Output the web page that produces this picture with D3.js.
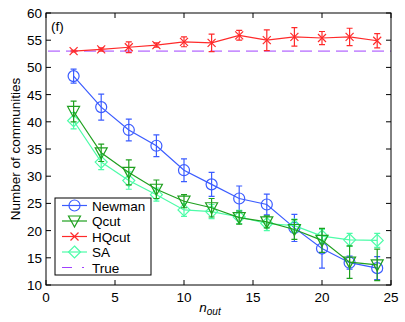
<!DOCTYPE html>
<html><head><meta charset="utf-8">
<script src="https://cdn.jsdelivr.net/npm/d3@7"></script>
<style>body{margin:0;background:#fff}svg{display:block}text{font-family:"Liberation Sans",Arial,sans-serif}</style>
</head><body><svg id="c" width="405" height="322"></svg>
<script>
const xs = [2,4,6,8,10,12,14,16,18,20,22,24];
const newmanY = [48.4,42.7,38.5,35.6,31.1,28.5,25.9,24.8,20.5,16.7,14.1,13.1];
const newmanE = [1.3,2.4,2.0,2.0,2.1,2.2,2.3,1.9,2.5,3.6,1.2,2.1];
const qcutY = [41.9,34.3,30.7,27.6,25.4,24.2,22.4,21.6,20.2,18.2,14.2,13.7];
const qcutE = [1.9,1.6,2.3,1.7,1.2,1.7,1.2,1.1,1.8,2.2,3.0,2.9];
const hqY = [53.0,53.3,53.7,54.1,54.7,54.5,55.9,55.0,55.6,55.4,55.6,54.9];
const hqE = [0.15,0.3,1.0,0.4,0.9,1.6,0.9,1.9,1.7,1.2,1.6,1.3];
const saY = [40.2,32.6,29.2,26.6,23.8,23.5,22.5,21.3,20.9,19.0,18.3,18.2];
const saE = [1.5,1.4,1.6,1.2,1.2,1.3,1.2,1.3,1.2,1.2,1.2,1.3];
const trueVal = 53;
const xTicks = [0,5,10,15,20,25];
const yTicks = [10,15,20,25,30,35,40,45,50,55,60];

const svg = d3.select('#c');
const L=46,R=391,T=13,B=285;
const x = d3.scaleLinear().domain([0,25]).range([L,R]);
const y = d3.scaleLinear().domain([10,60]).range([B,T]);

const series = [
 {name:'Newman', ys:newmanY, es:newmanE, color:'#3b5cff', marker:'circle'},
 {name:'Qcut', ys:qcutY, es:qcutE, color:'#1fa01f', marker:'tri'},
 {name:'HQcut', ys:hqY, es:hqE, color:'#ff2a2a', marker:'x'},
 {name:'SA', ys:saY, es:saE, color:'#4dfca8', marker:'diamond'}
];

// True dashed line
svg.append('line').attr('x1',x(0)+2).attr('x2',R).attr('y1',y(trueVal)).attr('y2',y(trueVal))
 .attr('stroke','#a040ff').attr('stroke-width',1).attr('stroke-dasharray','12,6');

function drawMarker(g, type, cx, cy, color){
  if(type==='circle') g.append('circle').attr('cx',cx).attr('cy',cy).attr('r',5.5).attr('fill','none').attr('stroke',color).attr('stroke-width',1.2);
  else if(type==='tri') g.append('path').attr('d',`M${cx-6},${cy-5}L${cx+6},${cy-5}L${cx},${cy+6}Z`).attr('fill','none').attr('stroke',color).attr('stroke-width',1.2);
  else if(type==='x') g.append('path').attr('d',`M${cx-4},${cy-4}L${cx+4},${cy+4}M${cx-4},${cy+4}L${cx+4},${cy-4}`).attr('stroke',color).attr('stroke-width',1.2);
  else if(type==='diamond') g.append('path').attr('d',`M${cx},${cy-6}L${cx+6},${cy}L${cx},${cy+6}L${cx-6},${cy}Z`).attr('fill','none').attr('stroke',color).attr('stroke-width',1.2);
}

const order = [series[0], series[3], series[1], series[2]];
order.forEach(s=>{
  const g = svg.append('g');
  const line = d3.line().x((d,i)=>x(xs[i])).y(d=>y(d));
  g.append('path').attr('d',line(s.ys)).attr('fill','none').attr('stroke',s.color).attr('stroke-width',1.2);
  s.ys.forEach((v,i)=>{
    const cx=x(xs[i]);
    const y1=y(v+s.es[i]), y2=y(v-s.es[i]);
    g.append('path').attr('d',`M${cx},${y1}L${cx},${y2}M${cx-3},${y1}L${cx+3},${y1}M${cx-3},${y2}L${cx+3},${y2}`)
      .attr('stroke',s.color).attr('stroke-width',1.2).attr('fill','none');
    drawMarker(g,s.marker,cx,y(v),s.color);
  });
});

// axes frame
svg.append('rect').attr('x',L).attr('y',T).attr('width',R-L).attr('height',B-T).attr('fill','none').attr('stroke','#000').attr('stroke-width',1);
const tl=5;
const ax = svg.append('g');
xTicks.forEach(t=>{
  ax.append('line').attr('x1',x(t)).attr('x2',x(t)).attr('y1',B).attr('y2',B-tl).attr('stroke','#000');
  ax.append('line').attr('x1',x(t)).attr('x2',x(t)).attr('y1',T).attr('y2',T+tl).attr('stroke','#000');
  ax.append('text').attr('x',x(t)).attr('y',B+17).attr('text-anchor','middle').attr('font-size',13.5).text(t);
});
yTicks.forEach(t=>{
  ax.append('line').attr('x1',L).attr('x2',L+tl).attr('y1',y(t)).attr('y2',y(t)).attr('stroke','#000');
  ax.append('line').attr('x1',R).attr('x2',R-tl).attr('y1',y(t)).attr('y2',y(t)).attr('stroke','#000');
  ax.append('text').attr('x',L-4).attr('y',y(t)+5).attr('text-anchor','end').attr('font-size',13.5).text(t);
});
svg.append('text').attr('transform',`translate(20,${(T+B)/2}) rotate(-90)`).attr('text-anchor','middle').attr('font-size',13.5).text('Number of communities');
const xl = svg.append('text').attr('x',210).attr('y',312).attr('text-anchor','middle').attr('font-size',13.5).attr('font-style','italic');
xl.append('tspan').text('n');
xl.append('tspan').attr('font-size',10).attr('dy',3).text('out');
svg.append('text').attr('x',51).attr('y',31).attr('font-size',13.5).text('(f)');

// legend
const lg = svg.append('g');
lg.append('rect').attr('x',55).attr('y',198).attr('width',96).attr('height',77).attr('fill','#fff').attr('stroke','#000').attr('stroke-width',1);
const items = [...series, {name:'True', color:'#a040ff', marker:'none'}];
items.forEach((s,i)=>{
  const cy = 205.5 + i*15.5;
  if(s.name==='True'){
    lg.append('line').attr('x1',62).attr('x2',87).attr('y1',cy).attr('y2',cy).attr('stroke',s.color).attr('stroke-width',1.2).attr('stroke-dasharray','10,10,2,10');
  } else {
    lg.append('line').attr('x1',62).attr('x2',87).attr('y1',cy).attr('y2',cy).attr('stroke',s.color).attr('stroke-width',1.2);
    drawMarker(lg,s.marker,74.5,cy,s.color);
  }
  lg.append('text').attr('x',92).attr('y',cy+5).attr('font-size',13.5).text(s.name);
});
</script></body></html>
